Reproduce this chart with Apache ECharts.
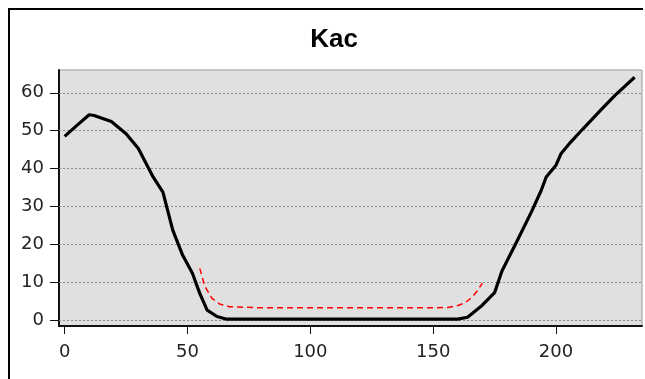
<!DOCTYPE html>
<html>
<head>
<meta charset="utf-8">
<script src="https://cdn.jsdelivr.net/npm/echarts@6/dist/echarts.min.js"></script>
<style>
  html, body { margin: 0; padding: 0; background: #fff; overflow: hidden; }
  #main { position: absolute; left: 0; top: 0; width: 645px; height: 379px; }
</style>
</head>
<body>
<div id="main"></div>
<script>
// Kac curve (black) and reference curve (red dashed)
var kacX = [0, 5, 10, 12, 19, 25, 30, 36, 40, 44, 48, 52, 55, 58, 62, 66, 100, 160, 164, 170, 175, 178, 184, 190, 194, 196, 200, 202, 206, 211, 218, 224, 232]
var kacY = [48.5, 51.4, 54.2, 54, 52.4, 49.2, 45.3, 37.8, 33.8, 23.8, 17.2, 12.4, 7.1, 2.7, 1, 0.3, 0.3, 0.3, 0.8, 4, 7.3, 13, 20.7, 28.6, 34.3, 37.8, 40.9, 43.9, 47, 50.5, 55.3, 59.3, 64.1]
var refX = [55, 57, 60, 63, 67, 80, 120, 150, 156, 160, 163, 166, 168, 170]
var refY = [13.7, 9, 5.8, 4.3, 3.6, 3.3, 3.3, 3.3, 3.4, 3.9, 4.6, 6.2, 7.8, 9.8]
var xTicks = [0, 50, 100, 150, 200]
var yTicks = [0, 10, 20, 30, 40, 50, 60]

var chart = echarts.init(document.getElementById('main'))

function pairs(xs, ys) {
  return xs.map(function (x, i) { return [x, ys[i]] })
}

var font = 'DejaVu Sans, Verdana, sans-serif'

chart.setOption({
  animation: false,
  // outer frame: only top and left edges are in view
  graphic: [
    { type: 'polyline', shape: { points: [[9, 379], [9, 9], [643, 9]] }, style: { stroke: '#000', lineWidth: 2, fill: null } }
  ],
  title: {
    text: 'Kac',
    left: 329,
    top: 22,
    textAlign: 'center',
    textStyle: { fontSize: 26, fontWeight: 'bold', color: '#000', fontFamily: 'Liberation Sans, Arial, sans-serif' }
  },
  grid: {
    left: 59,
    right: 3,
    top: 70,
    bottom: 53,
    show: true,
    backgroundColor: '#e0e0e0',
    borderColor: '#999',
    borderWidth: 1
  },
  xAxis: {
    type: 'value',
    min: -2.3,
    max: 235,
    axisLine: { show: true, onZero: false, lineStyle: { color: '#111', width: 2 } },
    axisTick: { show: true, length: 8, customValues: xTicks, lineStyle: { color: '#111', width: 1 } },
    axisLabel: { customValues: xTicks, margin: 17, fontSize: 18, color: '#222', fontFamily: font },
    splitLine: { show: false }
  },
  yAxis: {
    type: 'value',
    min: -1.5,
    max: 66,
    axisLine: { show: true, onZero: false, lineStyle: { color: '#111', width: 2 } },
    axisTick: { show: true, length: 9, customValues: yTicks, lineStyle: { color: '#111', width: 1 } },
    axisLabel: { customValues: yTicks, margin: 15, fontSize: 18, color: '#222', fontFamily: font },
    splitLine: { show: false }
  },
  series: [
    {
      type: 'line',
      data: pairs(kacX, kacY),
      symbol: 'none',
      lineStyle: { color: '#000', width: 3.2 },
      markLine: {
        silent: true,
        symbol: 'none',
        label: { show: false },
        lineStyle: { color: '#8a8a8a', type: [2, 2], width: 1 },
        data: yTicks.map(function (v) { return { yAxis: v } }),
        z: 1
      },
      z: 3
    },
    {
      type: 'line',
      data: pairs(refX, refY),
      symbol: 'none',
      lineStyle: { color: '#ff0000', width: 1.5, type: [6, 4] },
      z: 2
    }
  ]
})
</script>
</body>
</html>
